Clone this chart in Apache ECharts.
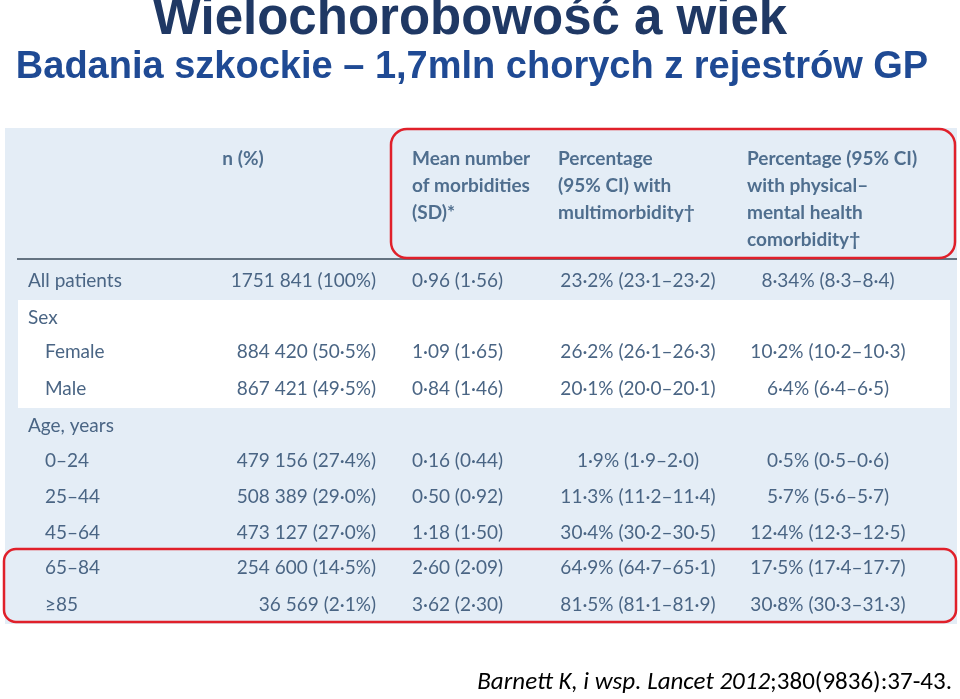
<!DOCTYPE html><html><head><meta charset="utf-8"><script src="https://cdn.jsdelivr.net/npm/echarts@6/dist/echarts.min.js"></script>
<style>html,body{margin:0;padding:0;background:#fff}#c{width:960px;height:699px}</style></head><body><div id="c"></div><script>
const rowLabels=['All patients','Sex','Female','Male','Age, years','0–24','25–44','45–64','65–84','≥85'];
const indent=[0,0,1,1,0,1,1,1,1,1];
const nPct=['1751 841 (100%)','','884 420 (50·5%)','867 421 (49·5%)','','479 156 (27·4%)','508 389 (29·0%)','473 127 (27·0%)','254 600 (14·5%)','36 569 (2·1%)'];
const meanSD=['0·96 (1·56)','','1·09 (1·65)','0·84 (1·46)','','0·16 (0·44)','0·50 (0·92)','1·18 (1·50)','2·60 (2·09)','3·62 (2·30)'];
const pctMulti=['23·2% (23·1–23·2)','','26·2% (26·1–26·3)','20·1% (20·0–20·1)','','1·9% (1·9–2·0)','11·3% (11·2–11·4)','30·4% (30·2–30·5)','64·9% (64·7–65·1)','81·5% (81·1–81·9)'];
const pctPhys=['8·34% (8·3–8·4)','','10·2% (10·2–10·3)','6·4% (6·4–6·5)','','0·5% (0·5–0·6)','5·7% (5·6–5·7)','12·4% (12·3–12·5)','17·5% (17·4–17·7)','30·8% (30·3–31·3)'];
const headers=['n (%)','Mean number\nof morbidities\n(SD)*','Percentage\n(95% CI) with\nmultimorbidity†','Percentage (95% CI)\nwith physical–\nmental health\ncomorbidity†'];
const rowY=[281,318,352,389,426,461,497,533,568,605];
const TC='#4a6584',F='Lato';
const g=[];
g.push({type:'rect',shape:{x:5,y:128,width:952,height:496},style:{fill:'#e4edf6'}});
g.push({type:'rect',shape:{x:18,y:300,width:932,height:108},style:{fill:'#ffffff'}});
g.push({type:'line',shape:{x1:17,y1:259,x2:957,y2:259},style:{stroke:'#3a4a5a',lineWidth:1.5}});
const hx=[[243,'center'],[412,'left'],[558,'left'],[747,'left']];
headers.forEach((h,i)=>g.push({type:'text',x:hx[i][0],y:145,style:{text:h,font:'bold 19px '+F,fill:'#4f6e8e',align:hx[i][1],verticalAlign:'top',lineHeight:27}}));
const ts=(t,x,y,a)=>({type:'text',x:x,y:y,style:{text:t,font:'19px '+F,fill:TC,align:a,verticalAlign:'middle'}});
rowLabels.forEach((l,i)=>{const y=rowY[i];
 g.push(ts(l,indent[i]?45:28,y,'left'));
 g.push(ts(nPct[i],376,y,'right'));
 g.push(ts(meanSD[i],412,y,'left'));
 g.push(ts(pctMulti[i],638,y,'center'));
 g.push(ts(pctPhys[i],828,y,'center'));
});
g.push({type:'rect',shape:{x:391,y:129,width:564,height:129,r:16},style:{fill:'none',stroke:'#e0202a',lineWidth:2.5}});
g.push({type:'rect',shape:{x:4,y:549,width:952,height:73,r:12},style:{fill:'none',stroke:'#e0202a',lineWidth:2.5}});
g.push({type:'text',x:470,y:20,style:{text:'Wielochorobowość a wiek',font:'bold 51px Arial, "Liberation Sans"',fill:'#1f3864',align:'center',verticalAlign:'middle'}});
g.push({type:'text',x:472,y:68,style:{text:'Badania szkockie – 1,7mln chorych z rejestrów GP',font:'bold 38px Arial, "Liberation Sans"',fill:'#1f4a94',align:'center',verticalAlign:'middle'}});
g.push({type:'text',x:952,y:683,style:{rich:{i:{font:'italic 25px Calibri, Carlito, "Liberation Sans"',fill:'#000'},n:{font:'25px Calibri, Carlito, "Liberation Sans"',fill:'#000'}},text:'{i|Barnett K, i wsp. Lancet 2012}{n|;380(9836):37-43.}',align:'right',verticalAlign:'middle'}});
const ch=echarts.init(document.getElementById('c'));
ch.setOption({graphic:g});
</script></body></html>
